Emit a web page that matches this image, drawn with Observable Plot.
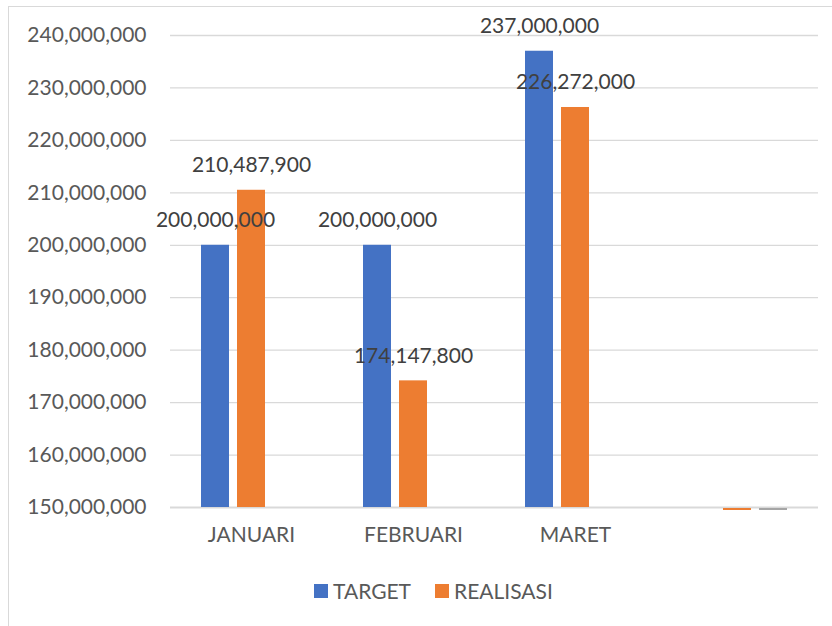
<!DOCTYPE html>
<html>
<head>
<meta charset="utf-8">
<script src="https://cdn.jsdelivr.net/npm/d3@7"></script>
<script src="https://cdn.jsdelivr.net/npm/@observablehq/plot@0.6"></script>
<style>
  html, body { margin: 0; padding: 0; background: #fff; }
  body { width: 832px; height: 626px; position: relative; overflow: hidden; font-family: Lato, "Open Sans", sans-serif; }
  #frame { position: absolute; left: 8px; top: 6px; width: 840px; height: 640px; border: 1.5px solid #d9d9d9; box-sizing: border-box; }
  #chart { position: absolute; left: 0; top: 0; }
  #legend { position: absolute; left: 314px; top: 578px; display: flex; align-items: center; font-size: 21px; color: #595959; }
  .sw { width: 14px; height: 14px; display: inline-block; margin-right: 5px; }
  .item { display: flex; align-items: center; margin-right: 24px; }
</style>
</head>
<body>
<div id="frame"></div>
<div id="chart"></div>
<div id="legend"></div>
<script>
const months = ["JANUARI", "FEBRUARI", "MARET", " "];
const seriesNames = ["TARGET", "REALISASI", "SERIES3"];
const legendNames = ["TARGET", "REALISASI"];
const target = [200000000, 200000000, 237000000, null];
const realisasi = [210487900, 174147800, 226272000, 0];
const series3 = [null, null, null, 0];
const colors = ["#4472C4", "#ED7D31", "#A5A5A5"];
const yTicks = [150000000, 160000000, 170000000, 180000000, 190000000, 200000000, 210000000, 220000000, 230000000, 240000000];
const yMin = 150000000, yMax = 240000000;

const rows = [];
months.forEach((m, i) => {
  [target, realisasi, series3].forEach((arr, j) => {
    if (arr[i] !== null) rows.push({month: m, series: seriesNames[j], value: arr[i]});
  });
});
const bars = rows.filter(d => d.value > yMin);
const flat = rows.filter(d => d.value <= yMin);
const fmt = d3.format(",");

const chart = Plot.plot({
  width: 832,
  height: 560,
  marginTop: 35,
  marginBottom: 53,
  marginLeft: 170,
  marginRight: 14,
  style: {fontFamily: "Lato, 'Open Sans', sans-serif", background: "transparent"},
  fx: {domain: months, padding: 0, label: null},
  x: {domain: seriesNames, paddingInner: 0.21, paddingOuter: 0.83, axis: null},
  y: {domain: [yMin, yMax], label: null},
  color: {domain: seriesNames, range: colors},
  marks: [
    Plot.ruleY(yTicks.slice(1), {stroke: "#d9d9d9", strokeWidth: 1.3}),
    Plot.ruleY([yMin], {stroke: "#d9d9d9", strokeWidth: 2}),
    Plot.barY(bars, {fx: "month", x: "series", y1: yMin, y2: "value", fill: "series"}),
    Plot.tickY(flat, {fx: "month", x: "series", y: () => yMin, stroke: "series", strokeWidth: 2, dy: 1.5}),
    Plot.text(bars, {fx: "month", x: "series", y: "value", text: d => fmt(d.value), dy: -25, fontSize: 21, fill: "#404040"}),
    Plot.axisY({ticks: yTicks, tickFormat: fmt, tickSize: 0, tickPadding: 24, fontSize: 21, color: "#595959", label: null}),
    Plot.axisFx({anchor: "bottom", tickSize: 0, tickPadding: 20, fontSize: 21, color: "#595959", label: null})
  ]
});
document.getElementById("chart").appendChild(chart);

const legend = document.getElementById("legend");
legendNames.forEach((n, i) => {
  const item = document.createElement("div");
  item.className = "item";
  const sw = document.createElement("span");
  sw.className = "sw";
  sw.style.background = colors[i];
  const t = document.createElement("span");
  t.textContent = n;
  item.appendChild(sw);
  item.appendChild(t);
  legend.appendChild(item);
});
</script>
</body>
</html>
